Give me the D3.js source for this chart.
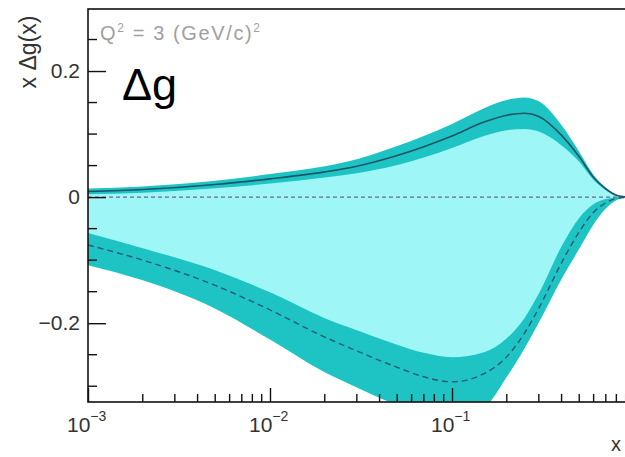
<!DOCTYPE html>
<html>
<head>
<meta charset="utf-8">
<script src="https://cdn.jsdelivr.net/npm/d3@7"></script>
<style>
  html, body { margin: 0; padding: 0; background: #fff; }
  svg { display: block; }
  text { font-family: "Liberation Sans", Arial, sans-serif; }
</style>
</head>
<body>
<svg id="chart" width="625" height="457"></svg>
<script>
// x grid (Bjorken x) and the two gluon-polarisation scenarios at Q^2 = 3 (GeV/c)^2
const xs        = [0.001, 0.002, 0.005, 0.01, 0.02, 0.03, 0.05, 0.07, 0.1, 0.15, 0.2, 0.25, 0.3, 0.4, 0.5, 0.6, 0.7, 0.8, 0.9, 1.0];
// positive solution: central value and error band
const upperMid  = [0.009, 0.012, 0.020, 0.029, 0.040, 0.049, 0.066, 0.080, 0.097, 0.119, 0.130, 0.133, 0.128, 0.098, 0.064, 0.031, 0.013, 0.003, 0.0005, 0];
const upperHi   = [0.0135, 0.017, 0.026, 0.0365, 0.049, 0.060, 0.081, 0.097, 0.116, 0.141, 0.154, 0.158, 0.152, 0.114, 0.072, 0.035, 0.015, 0.004, 0.001, 0];
const upperLo   = [0.0045, 0.007, 0.014, 0.0215, 0.031, 0.038, 0.051, 0.063, 0.078, 0.097, 0.106, 0.108, 0.104, 0.082, 0.056, 0.027, 0.011, 0.002, 0, 0];
// negative solution: central value and error band
const lowerMid  = [-0.076, -0.100, -0.140, -0.179, -0.222, -0.244, -0.270, -0.285, -0.293, -0.280, -0.253, -0.216, -0.176, -0.104, -0.055, -0.024, -0.009, -0.002, -0.0005, 0];
const lowerHi   = [-0.057, -0.081, -0.116, -0.151, -0.192, -0.211, -0.234, -0.247, -0.254, -0.246, -0.224, -0.192, -0.153, -0.078, -0.033, -0.011, -0.003, -0.0005, 0, 0];
const lowerLo   = [-0.108, -0.132, -0.177, -0.226, -0.278, -0.302, -0.330, -0.344, -0.350, -0.334, -0.285, -0.240, -0.199, -0.130, -0.082, -0.043, -0.018, -0.005, -0.001, 0];

const yMajor = [-0.2, 0, 0.2];
const yMinor = [-0.3, -0.25, -0.15, -0.1, -0.05, 0.05, 0.1, 0.15, 0.25];
const xMajor = [0.001, 0.01, 0.1];
const xMajorExp = ["−3", "−2", "−1"];

const svg = d3.select("#chart");
const L = 88, R = 634, T = 9, B = 402;

const x = d3.scaleLog().domain([0.001, 1]).range([L, R]);
const y = d3.scaleLinear().domain([-0.325, 0.2984]).range([B, T]);

svg.append("defs").append("clipPath").attr("id", "plotArea")
  .append("rect").attr("x", L).attr("y", T).attr("width", R - L).attr("height", B - T);

const plot = svg.append("g").attr("clip-path", "url(#plotArea)");
const curve = d3.curveMonotoneX;

const band = (hi, lo) => d3.area()
  .x((d, i) => x(xs[i])).y0((d, i) => y(lo[i])).y1((d, i) => y(hi[i])).curve(curve)(xs);
const line = vals => d3.line()
  .x((d, i) => x(xs[i])).y((d, i) => y(vals[i])).curve(curve)(xs);

// envelope between both solutions
plot.append("path").attr("d", band(upperMid, lowerMid)).attr("fill", "#9ef6f6");
// error bands
plot.append("path").attr("d", band(upperHi, upperLo)).attr("fill", "#1ec4c4");
plot.append("path").attr("d", band(lowerHi, lowerLo)).attr("fill", "#1ec4c4");

// zero reference
plot.append("line").attr("x1", L).attr("x2", R).attr("y1", y(0)).attr("y2", y(0))
  .attr("stroke", "#6f6690").attr("stroke-width", 1.2).attr("stroke-dasharray", "4,3");

// central curves
plot.append("path").attr("d", line(upperMid)).attr("fill", "none")
  .attr("stroke", "#1b5466").attr("stroke-width", 1.6);
plot.append("path").attr("d", line(lowerMid)).attr("fill", "none")
  .attr("stroke", "#245a70").attr("stroke-width", 1.4).attr("stroke-dasharray", "6,4");

// frame
svg.append("rect").attr("x", L).attr("y", T).attr("width", R - L).attr("height", B - T)
  .attr("fill", "none").attr("stroke", "#111").attr("stroke-width", 1.6);

// y axis
const yAxis = svg.append("g").attr("transform", `translate(${L},0)`);
yAxis.call(d3.axisLeft(y).tickValues(yMajor).tickSize(-18).tickPadding(8)
  .tickFormat(d => d === 0 ? "0" : (d < 0 ? "−" : "") + Math.abs(d).toFixed(1)));
yAxis.append("g").selectAll("line").data(yMinor).join("line")
  .attr("x1", 0).attr("x2", 9).attr("y1", d => y(d)).attr("y2", d => y(d));
yAxis.selectAll("line").attr("stroke", "#111").attr("stroke-width", 1.4);
yAxis.select(".domain").remove();
yAxis.selectAll("text").attr("font-size", 21).attr("fill", "#333")
  .attr("font-family", "Liberation Sans, Arial, sans-serif");

// x axis
const xMinor = [];
[0.001, 0.01, 0.1].forEach(dec => { for (let k = 2; k <= 9; k++) xMinor.push(dec * k); });
const xAxis = svg.append("g").attr("transform", `translate(0,${B})`);
xAxis.call(d3.axisBottom(x).tickValues(xMajor).tickSize(-14).tickFormat(""));
xAxis.append("g").selectAll("line").data(xMinor).join("line")
  .attr("x1", d => x(d)).attr("x2", d => x(d)).attr("y1", 0).attr("y2", -8);
xAxis.selectAll("line").attr("stroke", "#111").attr("stroke-width", 1.4);
xAxis.select(".domain").remove();

const xl = svg.append("g").selectAll("text").data(xMajor).join("text")
  .attr("x", d => x(d) - 21).attr("y", 432)
  .attr("font-size", 21).attr("fill", "#333");
xl.append("tspan").text("10");
xl.append("tspan").attr("dy", -11).attr("font-size", 14).text((d, i) => xMajorExp[i]);

// axis titles
svg.append("text").attr("transform", "translate(36,52) rotate(-90)")
  .attr("text-anchor", "middle").attr("font-size", 23).attr("fill", "#333")
  .text("x Δg(x)");
svg.append("text").attr("x", 611).attr("y", 451).attr("font-size", 20).attr("fill", "#333").text("x");

// annotations
const q = svg.append("text").attr("x", 100).attr("y", 40).attr("font-size", 20).attr("fill", "#a0a0a0")
  .attr("textLength", 160).attr("lengthAdjust", "spacing");
q.append("tspan").text("Q");
q.append("tspan").attr("dy", -8).attr("font-size", 12).text("2");
q.append("tspan").attr("dy", 8).text(" = 3 (GeV/c)");
q.append("tspan").attr("dy", -8).attr("font-size", 12).text("2");

svg.append("text").attr("x", 122).attr("y", 100).attr("font-size", 45).attr("fill", "#000")
  .attr("font-family", "DejaVu Sans, sans-serif").text("Δg");
</script>
</body>
</html>
